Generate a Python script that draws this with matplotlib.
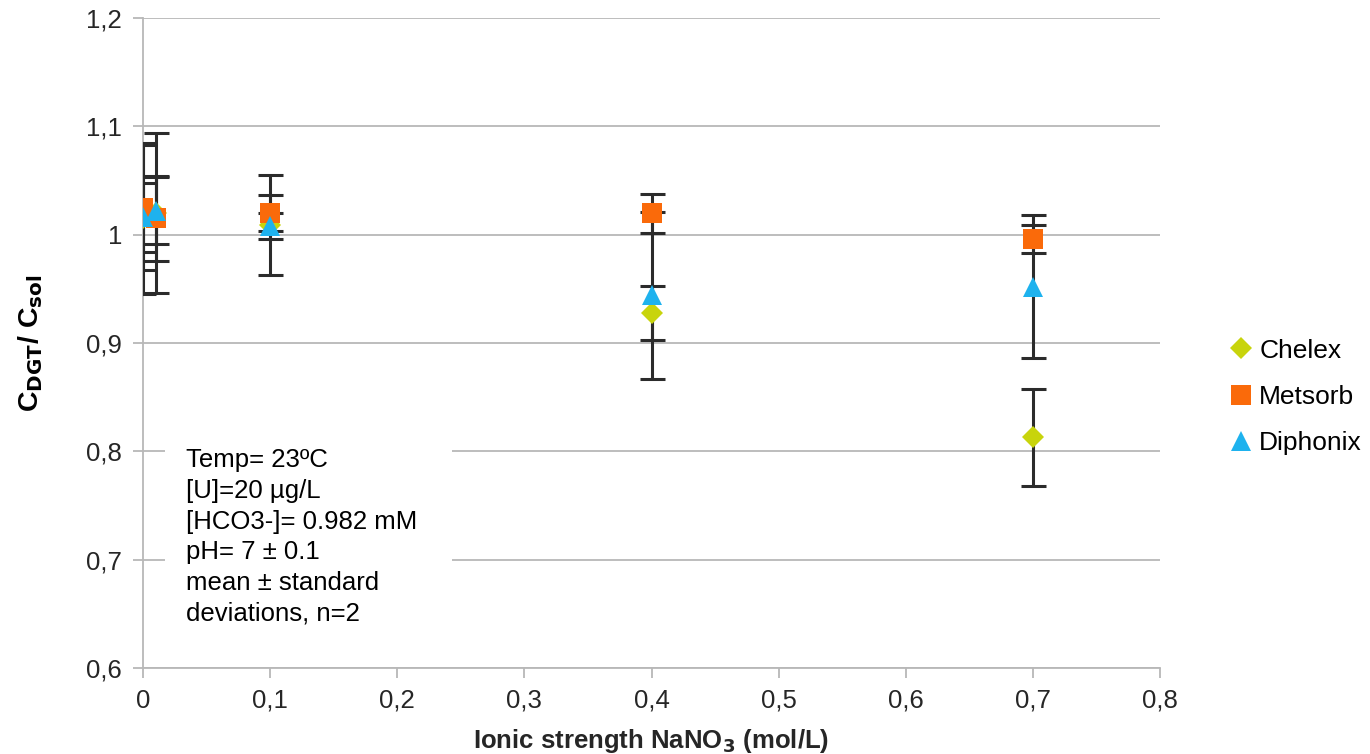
import matplotlib
matplotlib.use("Agg")
import matplotlib.pyplot as plt
from matplotlib.ticker import FuncFormatter, MultipleLocator
from matplotlib.patches import Rectangle

plt.rcParams['font.family'] = ['Liberation Sans', 'DejaVu Sans']

# Data
series = ["Chelex", "Metsorb", "Diphonix"]
x_vals = [0.0, 0.01, 0.1, 0.4, 0.7]
chelex = [1.015, 1.020, 1.009, 0.928, 0.813]
chelex_err = [0.070, 0.074, 0.046, 0.025, 0.045]
metsorb = [1.025, 1.015, 1.020, 1.020, 0.996]
metsorb_err = [0.058, 0.039, 0.017, 0.018, 0.013]
diphonix = [1.016, 1.022, 1.008, 0.944, 0.952]
diphonix_err = [0.032, 0.031, 0.012, 0.077, 0.066]

colors = {"Chelex": "#c8d40c", "Metsorb": "#fa6a0a", "Diphonix": "#1eb2ee"}
markers = {"Chelex": "D", "Metsorb": "s", "Diphonix": "^"}
msizes = {"Chelex": 11, "Metsorb": 15, "Diphonix": 15}
values = {"Chelex": (chelex, chelex_err), "Metsorb": (metsorb, metsorb_err),
          "Diphonix": (diphonix, diphonix_err)}

fig = plt.figure(figsize=(13.7, 7.54), dpi=100)
ax = fig.add_axes([143/1370, (754-668)/754, (1160-143)/1370, (668-18)/754])

for s in series:
    y, e = values[s]
    ax.errorbar(x_vals, y, yerr=e, fmt='none', ecolor='#2b2b2b', elinewidth=2.2,
                capsize=9, capthick=2.2, zorder=3)
for s in series:
    y, e = values[s]
    ax.plot(x_vals, y, linestyle='none', marker=markers[s], color=colors[s],
            markersize=msizes[s], markeredgewidth=0, label=s, zorder=4)

ax.set_xlim(0, 0.8)
ax.set_ylim(0.6, 1.2)
ax.xaxis.set_major_locator(MultipleLocator(0.1))
ax.yaxis.set_major_locator(MultipleLocator(0.1))

def fmt(v, pos):
    s = ('%.1f' % v)
    if s == '0.0':
        return '0'
    if s == '1.0':
        return '1'
    return s.replace('.', ',')

ax.xaxis.set_major_formatter(FuncFormatter(fmt))
ax.yaxis.set_major_formatter(FuncFormatter(fmt))
ax.grid(axis='y', color='#b8b8b8', linewidth=1.3, zorder=0)
ax.set_axisbelow(True)
for sp in ['top', 'right']:
    ax.spines[sp].set_visible(False)
for sp in ['left', 'bottom']:
    ax.spines[sp].set_color('#b8b8b8')
    ax.spines[sp].set_linewidth(1.3)
ax.tick_params(axis='both', colors='#b8b8b8', labelcolor='#262626', labelsize=18.5,
               length=7, width=1.3)
ax.tick_params(axis='x', pad=8)
ax.tick_params(axis='y', pad=8)

ax.set_xlabel('Ionic strength NaNO$_\\mathbf{3}$ (mol/L)', fontsize=18.5, fontweight='bold',
              color='#262626', labelpad=10)
ax.set_ylabel('C$_{\\mathbf{DGT}}$/ C$_{\\mathbf{sol}}$', fontsize=20.5, fontweight='bold',
              color='#000000', labelpad=30)

ax.add_patch(Rectangle((0.0216, 0.035), 0.2825, 0.325, transform=ax.transAxes,
                       facecolor='white', edgecolor='none', zorder=2))
ax.text(0.0423, 0.338,
        "Temp= 23ºC\n[U]=20 µg/L\n[HCO3-]= 0.982 mM\npH= 7 ± 0.1\nmean ± standard\ndeviations, n=2",
        transform=ax.transAxes,
        fontsize=18.5, va='top', ha='left', linespacing=1.35, color='#000000', zorder=5)

leg = fig.legend(loc='center left', bbox_to_anchor=(1217/1370, 1-397/754), frameon=False,
                 fontsize=19, handletextpad=0.2, handlelength=1.0, labelspacing=0.85,
                 borderaxespad=0)

fig.savefig('out.png', dpi=100)
